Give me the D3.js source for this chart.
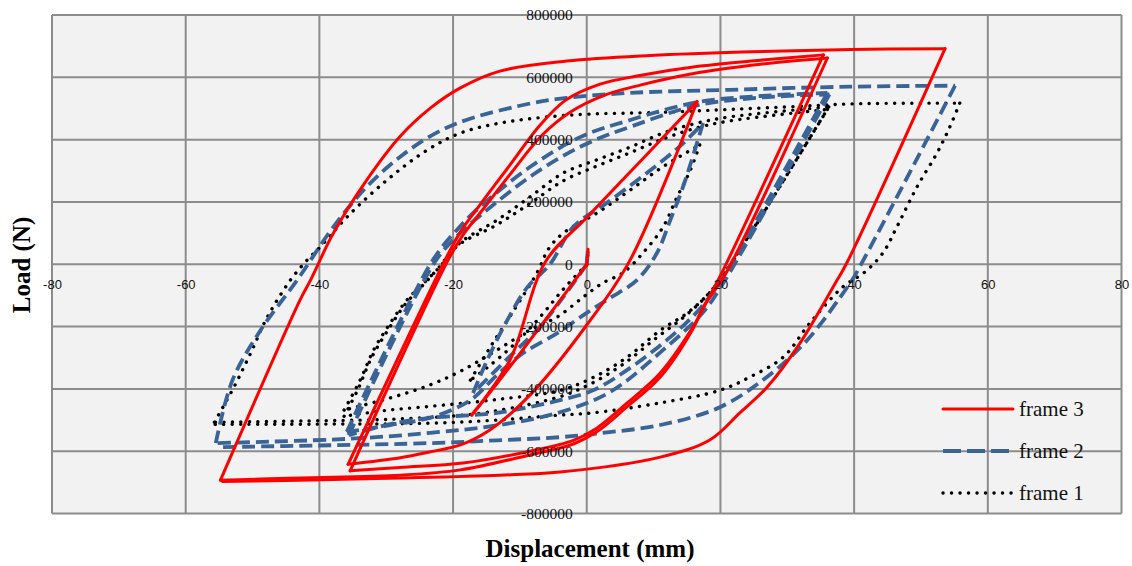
<!DOCTYPE html>
<html>
<head>
<meta charset="utf-8">
<script src="https://cdn.jsdelivr.net/npm/d3@7"></script>
<style>
body{margin:0;background:#fff;}
</style>
</head>
<body>
<svg id="chart" width="1132" height="566"></svg>
<script>
// tick values
const xTicks = [-80, -60, -40, -20, 0, 20, 40, 60, 80];
const yTicks = [-800000, -600000, -400000, -200000, 0, 200000, 400000, 600000, 800000];
const seriesNames = ["frame 3", "frame 2", "frame 1"];

// frame 3 : displacement (mm), load (N), one inner array per half cycle
const frame3 = [
    [[0,-5000],[0.2,48000],[0,0]],
    [[0,0],[-3.6,-105000],[-8.5,-244000],[-13.4,-382000],[-17.2,-484000]],
    [[-17.2,-484000],[-11.5,-308000],[-6.2,7000],[0,150000],[8,330000],[16.5,522000]],
    [[16.5,522000],[6.5,14000],[0,-195000],[-8.5,-420000],[-14.5,-532000],[-18.9,-580000],[-23.4,-602000],[-27.9,-621000],[-35.7,-642000]],
    [[-35.7,-642000],[-21.2,13000],[-18.9,104000],[-16,190000],[-11.5,318000],[-7,446000],[-3.2,526000],[2,578000],[7.5,604000],[17,636000],[26,655000],[35.4,672000]],
    [[35.4,672000],[20.2,-28000],[18.1,-114000],[15.9,-201000],[11,-349000],[6,-446000],[1.5,-526000],[-2,-565000],[-8.5,-600000],[-18.5,-638000],[-28,-652000],[-35.4,-663000]],
    [[-35.4,-663000],[-20.9,7000],[-18.6,91000],[-15.6,174000],[-11.2,296000],[-6.7,414000],[-2.5,488000],[2.7,543000],[8,575000],[17,616000],[26,642000],[36,662000]],
    [[36,662000],[20.7,-34000],[17.6,-131000],[15.8,-211000],[11,-362000],[6,-458000],[1.5,-538000],[-2,-577000],[-8.5,-612000],[-18.9,-660000],[-27.9,-677000],[-42.9,-686000],[-54.8,-693000]],
    [[-54.8,-693000],[-42.9,-115000],[-41.3,-50000],[-37.9,100000],[-32.9,271000],[-27.9,411000],[-23.4,501000],[-18.9,566000],[-13,620000],[-3,652000],[9.5,670000],[24.5,682000],[39.5,689000],[53.6,692000]],
    [[53.6,692000],[38.9,4000],[37.2,-60000],[31.9,-253000],[27,-394000],[22.9,-477000],[18.4,-564000],[11,-619000],[-4,-667000],[-13,-677000],[-27.9,-686000],[-42.9,-693000],[-54.5,-697000]]
];

// frame 2
const frame2 = [
    [[0,0],[0.2,50000],[0,5000]],
    [[0,0],[-3.5,-105000],[-7,-201000],[-11,-285000],[-17,-413000]],
    [[-17,-413000],[-14.9,-308000],[-11.9,-180000],[-8.9,-74000],[-5.5,0],[-2,120000],[3,197000],[9,293000],[14,380000],[17.4,453000]],
    [[17.4,453000],[14.4,248000],[12.5,142000],[10.5,36000],[7.5,-51000],[3.5,-108000],[0,-156000],[-4.4,-221000],[-9.5,-285000],[-13.4,-355000],[-17.4,-436000],[-23,-490000],[-29.4,-516000],[-35.9,-538000]],
    [[-35.9,-538000],[-23,14000],[-19,120000],[-16,184000],[-8.5,312000],[-1,408000],[6.5,463000],[16.5,520000],[26,540000],[36,550000]],
    [[36,550000],[20.4,-41000],[17,-141000],[12.5,-234000],[6,-340000],[1,-404000],[-4,-436000],[-13.4,-477000],[-23.4,-493000],[-29.4,-513000],[-35.6,-549000]],
    [[-35.6,-549000],[-22.7,8000],[-18.7,105000],[-15.5,164000],[-8,288000],[-0.5,382000],[7,445000],[16.5,510000],[26,535000],[36.3,545000]],
    [[36.3,545000],[20.8,-47000],[17.4,-154000],[11,-283000],[3.5,-410000],[-4,-475000],[-13.4,-517000],[-23.4,-541000],[-35.4,-560000],[-55.5,-574000]],
    [[-55.5,-574000],[-53,-372000],[-48.8,-212000],[-43.3,-50000],[-37.9,120000],[-32.9,249000],[-27.9,345000],[-23,416000],[-17.9,464000],[-8,518000],[-3,534000],[6.5,550000],[21.4,560000],[39.4,570000],[55.1,573000]],
    [[55.1,573000],[39.9,-44000],[39,-73000],[33,-243000],[27,-361000],[20,-458000],[11,-516000],[2,-542000],[-4,-555000],[-13.4,-565000],[-23.4,-574000],[-38.4,-581000],[-55.3,-587000]]
];

// frame 1
const frame1 = [
    [[0,0],[0.2,40000],[0,5000]],
    [[0,0],[-3.5,-80000],[-7,-170000],[-11,-260000],[-14.5,-325000],[-17.4,-372000]],
    [[-17.4,-372000],[-14.5,-268000],[-11,-151000],[-7.4,-26000],[-5.7,50000],[-3.5,100000],[1.5,164000],[6.5,238000],[11.4,313000],[16.9,383000]],
    [[16.9,383000],[15.5,302000],[13.5,215000],[11.4,119000],[8.4,36000],[5.4,-28000],[2.4,-60000],[-0.5,-105000],[-4.4,-169000],[-8.5,-211000],[-13.4,-275000],[-18.5,-339000],[-23.4,-387000],[-29.4,-429000],[-36.3,-468000]],
    [[-36.3,-468000],[-33.9,-372000],[-31.9,-276000],[-29.8,-202000],[-26.9,-115000],[-23.9,-50000],[-22,-9000],[-19,68000],[-13.4,142000],[-8.5,216000],[-3.5,293000],[1.5,335000],[6.5,376000],[11.4,421000],[16.5,453000],[21.4,473000],[36.2,505000]],
    [[36.2,505000],[21,-18000],[18.3,-93000],[15,-157000],[11,-212000],[6,-299000],[1,-363000],[-4,-405000],[-13.4,-434000],[-23.4,-456000],[-30,-469000],[-36.3,-488000]],
    [[-36.3,-488000],[-34.2,-400000],[-32.2,-300000],[-30,-220000],[-27.2,-130000],[-24.2,-60000],[-22.3,-15000],[-19.3,60000],[-13.6,125000],[-8.5,195000],[-3.5,268000],[1.5,315000],[6.5,358000],[11.4,402000],[16.5,438000],[21.4,460000],[36,497000]],
    [[36,497000],[20.7,-25000],[18,-100000],[14.5,-170000],[10.5,-235000],[5.5,-320000],[0.5,-385000],[-4,-425000],[-13.4,-470000],[-18.9,-485000],[-30,-498000],[-42,-503000],[-55.7,-507000]],
    [[-55.7,-507000],[-52.8,-395000],[-50.3,-286000],[-47.8,-170000],[-44.3,-50000],[-41.8,14000],[-39.9,55000],[-35.9,151000],[-29.9,270000],[-23.9,366000],[-18.9,421000],[-13,453000],[-3,478000],[11.4,488000],[21.4,497000],[31.9,507000],[40,515000],[55.8,517000]],
    [[55.8,517000],[54.3,440000],[52.4,357000],[49.4,248000],[46.4,120000],[44.3,36000],[41.6,-25000],[38.3,-73000],[33.4,-188000],[29.4,-298000],[24.4,-362000],[20,-404000],[11,-445000],[0.9,-477000],[-4,-484000],[-13.4,-500000],[-23.4,-510000],[-38.4,-513000],[-55.7,-514000]]
];

const svg = d3.select("#chart");

// plot box
const plot = {left: 52, right: 1121.5, top: 15, bottom: 513.5};

const x = d3.scaleLinear().domain([-80, 80]).range([plot.left, plot.right]);
const y = d3.scaleLinear().domain([-800000, 800000]).range([plot.bottom, plot.top]);

svg.append("rect")
    .attr("x", plot.left)
    .attr("y", plot.top)
    .attr("width", plot.right - plot.left)
    .attr("height", plot.bottom - plot.top)
    .attr("fill", "#f2f2f2");

//grid lines
let grid = svg.append("g").attr("stroke", "#8c8c8c").attr("stroke-width", 2);

grid.selectAll(".vgrid").data(xTicks).enter()
    .append("line")
    .attr("x1", d => x(d)).attr("x2", d => x(d))
    .attr("y1", plot.top).attr("y2", plot.bottom);

grid.selectAll(".hgrid").data(yTicks).enter()
    .append("line")
    .attr("x1", plot.left).attr("x2", plot.right)
    .attr("y1", d => y(d)).attr("y2", d => y(d));

// the series, drawn back to front
let line = d3.line()
    .x(d => x(d[0]))
    .y(d => y(d[1]))
    .curve(d3.curveCatmullRom.alpha(0.5));

let styles = [
    {data: frame1, color: "#000000", width: 3.4, dash: "0.1,8.4", cap: "round"},
    {data: frame2, color: "#3a6396", width: 3.8, dash: "13,6", cap: "butt"},
    {data: frame3, color: "#ff0000", width: 3, dash: null, cap: "round"}
];

styles.forEach(function(s){
    svg.append("g")
        .selectAll("path")
        .data(s.data).enter()
        .append("path")
        .attr("d", line)
        .attr("fill", "none")
        .attr("stroke", s.color)
        .attr("stroke-width", s.width)
        .attr("stroke-linecap", s.cap)
        .attr("stroke-linejoin", "round")
        .attr("stroke-dasharray", s.dash);
});

// axes crossing at zero, plain hyphen for negatives
let plain = d => String(d);

let xAxis = d3.axisBottom(x).tickValues(xTicks).tickFormat(plain).tickSize(0).tickPadding(16);
let gx = svg.append("g")
    .attr("transform", "translate(0," + y(0) + ")")
    .call(xAxis);
gx.select(".domain").remove();
gx.selectAll("text")
    .attr("font-family", "'Liberation Sans', Arial, sans-serif")
    .attr("font-size", 13)
    .attr("fill", "#111");

let yAxis = d3.axisLeft(y).tickValues(yTicks).tickFormat(plain).tickSize(0).tickPadding(14);
let gy = svg.append("g")
    .attr("transform", "translate(" + x(0) + ",0)")
    .call(yAxis);
gy.select(".domain").remove();
gy.selectAll("text")
    .attr("font-family", "'Liberation Serif', 'Times New Roman', serif")
    .attr("font-size", 15.5)
    .attr("fill", "#111");

// axis titles
svg.append("text")
    .attr("x", 590)
    .attr("y", 557)
    .attr("text-anchor", "middle")
    .attr("font-family", "'Liberation Serif', 'Times New Roman', serif")
    .attr("font-weight", "bold")
    .attr("font-size", 25)
    .text("Displacement (mm)");

svg.append("text")
    .attr("transform", "translate(30,265) rotate(-90)")
    .attr("text-anchor", "middle")
    .attr("font-family", "'Liberation Serif', 'Times New Roman', serif")
    .attr("font-weight", "bold")
    .attr("font-size", 25)
    .text("Load (N)");

// legend
let legendStyles = [styles[2], styles[1], styles[0]];
let legend = svg.append("g");
let legendY = [409, 451, 493];

legend.selectAll("line").data(seriesNames).enter()
    .append("line")
    .attr("x1", 943).attr("x2", 1013)
    .attr("y1", (d, i) => legendY[i]).attr("y2", (d, i) => legendY[i])
    .attr("stroke", (d, i) => legendStyles[i].color)
    .attr("stroke-width", (d, i) => legendStyles[i].width)
    .attr("stroke-linecap", (d, i) => legendStyles[i].cap)
    .attr("stroke-dasharray", (d, i) => i == 1 ? "18,6" : legendStyles[i].dash);

legend.selectAll("text").data(seriesNames).enter()
    .append("text")
    .attr("x", 1019)
    .attr("y", (d, i) => legendY[i] + 7)
    .attr("font-family", "'Liberation Serif', 'Times New Roman', serif")
    .attr("font-size", 21)
    .attr("fill", "#111")
    .text(d => d);
</script>
</body>
</html>
